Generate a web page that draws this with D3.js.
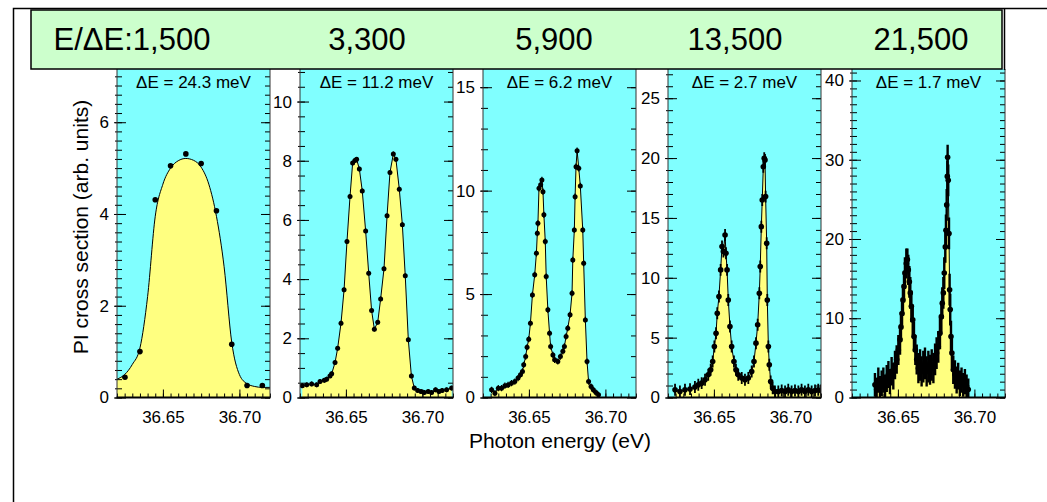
<!DOCTYPE html>
<html>
<head>
<meta charset="utf-8">
<script src="https://cdn.jsdelivr.net/npm/d3@7"></script>
<style>
  body { margin: 0; background: #fff; }
  svg { display: block; font-family: "Liberation Sans", Arial, sans-serif; }
</style>
</head>
<body>
<svg id="chart" width="1047" height="502"></svg>
<script>
// header + panel labels
const headerLabels = ["E/\u0394E:1,500", "3,300", "5,900", "13,500", "21,500"];
const resLabels = ["\u0394E = 24.3 meV", "\u0394E = 11.2 meV", "\u0394E = 6.2 meV", "\u0394E = 2.7 meV", "\u0394E = 1.7 meV"];

// axes
const xDomain = [36.62, 36.72];
const xTicks = [36.65, 36.70];
const xTickLabels = ["36.65", "36.70"];
const yMax = [7.16, 11.1, 15.88, 27.44, 41.45];
const yTicks = [[0, 2, 4, 6], [0, 2, 4, 6, 8, 10], [0, 5, 10, 15], [0, 5, 10, 15, 20, 25], [0, 10, 20, 30, 40]];
const yMinorStep = [0.2, 0.5, 1, 1, 1];

// panel 1 : points + fitted curve
const p1E = [36.6252, 36.635, 36.645, 36.655, 36.665, 36.675, 36.685, 36.695, 36.705, 36.715];
const p1Y = [0.44, 1.0, 4.31, 5.05, 5.31, 5.10, 4.07, 1.16, 0.26, 0.26];
const fitE = [36.620, 36.625, 36.630, 36.635, 36.640, 36.645, 36.650, 36.655, 36.660, 36.665, 36.670,
              36.675, 36.680, 36.685, 36.690, 36.695, 36.700, 36.705, 36.710, 36.715, 36.720];
const fitY = [0.40, 0.50, 0.72, 1.08, 2.20, 3.95, 4.65, 5.00, 5.16, 5.21, 5.17,
              5.02, 4.65, 3.95, 2.85, 1.20, 0.50, 0.30, 0.24, 0.22, 0.22];

// panel 2
const p2E = [36.6215, 36.6244, 36.6276, 36.6309, 36.6331, 36.6359, 36.6374, 36.6396, 36.6407, 36.6429,
             36.6446, 36.6468, 36.6488, 36.6507, 36.6527, 36.6544, 36.6559, 36.6570, 36.6588, 36.6607,
             36.6629, 36.6649, 36.6668, 36.6686, 36.6708, 36.6727, 36.6749, 36.6769, 36.6788, 36.6810,
             36.6827, 36.6849, 36.6869, 36.6888, 36.6908, 36.6928, 36.6947, 36.6969, 36.6991, 36.7012,
             36.7038, 36.7060, 36.7086, 36.7108, 36.7129, 36.7158, 36.7191];
const p2Y = [0.40, 0.43, 0.46, 0.43, 0.54, 0.58, 0.62, 0.73, 0.80, 1.18,
             1.66, 2.51, 3.64, 5.27, 6.79, 7.92, 8.01, 8.05, 7.72, 6.98,
             5.63, 4.20, 2.94, 2.31, 2.54, 3.33, 4.35, 6.14, 7.60, 8.23,
             8.05, 7.04, 5.84, 4.11, 1.95, 0.73, 0.32, 0.24, 0.20, 0.17,
             0.20, 0.17, 0.26, 0.20, 0.24, 0.26, 0.32];

// panel 3
const p3E = [36.6256, 36.6278, 36.6300, 36.6321, 36.6343, 36.6364, 36.6386, 36.6408, 36.6429, 36.6445,
             36.6458, 36.6466, 36.6479, 36.6488, 36.6499, 36.6510, 36.6523, 36.6538, 36.6549, 36.6555,
             36.6559, 36.6566, 36.6577, 36.6585, 36.6592, 36.6598, 36.6607, 36.6613, 36.6624, 36.6635,
             36.6642, 36.6657, 36.6668, 36.6689, 36.6706, 36.6722, 36.6732, 36.6743, 36.6754, 36.6769,
             36.6782, 36.6787, 36.6797, 36.6802, 36.6808, 36.6815, 36.6826, 36.6836, 36.6852, 36.6858,
             36.6869, 36.6880, 36.6890, 36.6906, 36.6921, 36.6938, 36.6955];
const p3Y = [0.37, 0.21, 0.45, 0.45, 0.57, 0.61, 0.69, 0.77, 0.94, 1.10,
             1.26, 1.58, 1.98, 2.43, 2.82, 3.59, 4.96, 5.93, 6.97, 7.94,
             8.42, 10.11, 10.28, 10.52, 9.95, 8.83, 7.54, 5.85, 4.24, 3.11,
             2.47, 2.06, 1.82, 1.74, 1.98, 2.23, 2.47, 2.95, 3.35, 4.00,
             5.04, 6.65, 8.10, 9.71, 11.16, 11.93, 11.08, 10.23, 8.10, 6.49,
             3.75, 1.74, 0.77, 0.53, 0.37, 0.24, 0.13];

// panel 4
const p4E = [36.6246, 36.6278, 36.6311, 36.6344, 36.6376, 36.6398, 36.6420, 36.6442, 36.6463, 36.6479,
             36.6492, 36.6503, 36.6514, 36.6522, 36.6533, 36.6544, 36.6553, 36.6562, 36.6573, 36.6579,
             36.6586, 36.6594, 36.6605, 36.6616, 36.6631, 36.6644, 36.6659, 36.6682, 36.6703, 36.6725,
             36.6747, 36.6762, 36.6775, 36.6786, 36.6797, 36.6803, 36.6810, 36.6816, 36.6823, 36.6829,
             36.6834, 36.6838, 36.6845, 36.6849, 36.6856, 36.6862, 36.6871, 36.6884, 36.6899, 36.6921,
             36.6943, 36.6965, 36.6986, 36.7008, 36.7030, 36.7052, 36.7073, 36.7095, 36.7117, 36.7139,
             36.7161, 36.7182, 36.7200];
const p4Y = [0.64, 0.50, 0.64, 0.70, 0.87, 1.06, 1.20, 1.48, 1.90, 2.31,
             3.01, 4.26, 5.37, 7.04, 8.43, 10.66, 12.61, 12.19, 13.58, 12.05,
             10.66, 8.15, 5.93, 4.26, 3.01, 2.31, 1.90, 1.62, 1.48, 1.62,
             2.17, 3.01, 4.54, 6.07, 8.71, 10.94, 14.27, 16.50, 19.28, 19.98,
             19.84, 16.78, 12.89, 8.15, 4.26, 2.73, 1.34, 0.78, 0.50, 0.50,
             0.59, 0.50, 0.64, 0.50, 0.59, 0.50, 0.64, 0.50, 0.64, 0.50,
             0.59, 0.64, 0.59];

// panel 5 (with error bars)
const p5E = [36.6350, 36.6361, 36.6372, 36.6383, 36.6394, 36.6405, 36.6416, 36.6427, 36.6438, 36.6448,
             36.6459, 36.6470, 36.6481, 36.6492, 36.6503, 36.6514, 36.6520, 36.6527, 36.6533, 36.6540,
             36.6546, 36.6555, 36.6562, 36.6568, 36.6575, 36.6581, 36.6588, 36.6597, 36.6605, 36.6614,
             36.6623, 36.6634, 36.6645, 36.6655, 36.6666, 36.6677, 36.6688, 36.6699, 36.6710, 36.6721,
             36.6732, 36.6743, 36.6753, 36.6764, 36.6775, 36.6784, 36.6790, 36.6797, 36.6803, 36.6810,
             36.6814, 36.6819, 36.6823, 36.6825, 36.6829, 36.6834, 36.6838, 36.6842, 36.6847, 36.6853,
             36.6862, 36.6873, 36.6884, 36.6894, 36.6905, 36.6916, 36.6927, 36.6938, 36.6949, 36.6960];
const p5Y = [1.6, 1.0, 2.2, 1.2, 1.8, 2.2, 1.4, 2.4, 2.9, 2.0,
             3.3, 2.7, 4.1, 4.8, 6.0, 7.3, 8.9, 10.6, 12.3, 14.0,
             15.7, 16.9, 17.4, 16.1, 14.6, 13.2, 11.5, 9.8, 7.7, 6.0,
             4.8, 3.7, 4.1, 3.3, 3.9, 4.3, 3.3, 3.9, 3.5, 4.1,
             3.7, 4.8, 5.6, 6.4, 8.1, 10.2, 11.9, 13.2, 15.7, 19.0,
             21.1, 24.3, 27.9, 30.3, 27.4, 20.7, 13.6, 11.1, 7.7, 5.6,
             3.5, 2.9, 2.2, 2.7, 1.8, 2.2, 1.6, 2.0, 1.4, 1.0];
const p5Err = [1.5, 1.5, 1.6, 1.5, 1.6, 1.6, 1.5, 1.7, 1.7, 1.6,
               1.8, 1.7, 1.8, 1.8, 1.9, 1.9, 1.9, 2.0, 2.0, 2.0,
               2.0, 1.9, 1.4, 1.9, 2.0, 2.0, 2.0, 1.9, 1.9, 1.9,
               1.9, 1.9, 2.0, 1.9, 2.0, 2.0, 1.9, 2.0, 1.9, 2.0,
               1.9, 2.0, 2.0, 2.0, 2.0, 2.0, 2.0, 2.0, 2.0, 2.0,
               2.0, 2.0, 2.0, 1.6, 2.0, 2.0, 2.0, 2.0, 2.0, 1.9,
               1.8, 1.8, 1.7, 1.7, 1.6, 1.6, 1.5, 1.6, 1.5, 1.4];
const errConst = [0, 0.08, 0.15, 0.5, 0];

const zip = (a, b) => a.map((v, i) => [v, b[i]]);
const panels = [
  { curve: zip(fitE, fitY), pts: zip(p1E, p1Y), smooth: true },
  { curve: zip(p2E, p2Y), pts: zip(p2E, p2Y) },
  { curve: zip(p3E, p3Y), pts: zip(p3E, p3Y) },
  { curve: zip(p4E, p4Y), pts: zip(p4E, p4Y) },
  { curve: zip(p5E, p5Y), pts: zip(p5E, p5Y), err: p5Err }
];

const svg = d3.select("#chart");
const panelLeft = [117, 300, 483, 668, 852];
const panelW = 153;
const plotTop = 69, plotBottom = 397.5;
const dotR = [2.8, 2.5, 2.5, 2.8, 2.8];
const ebWidth = [1, 1.2, 1.2, 1.8, 2.4];

panels.forEach((p, i) => {
  const L = panelLeft[i];
  const x = d3.scaleLinear().domain(xDomain).range([L, L + panelW]);
  const y = d3.scaleLinear().domain([0, yMax[i]]).range([plotBottom, plotTop]);
  const g = svg.append("g");

  g.append("clipPath").attr("id", "clip" + i)
    .append("rect").attr("x", L).attr("y", plotTop).attr("width", panelW).attr("height", plotBottom - plotTop);

  g.append("rect")
    .attr("x", L).attr("y", plotTop).attr("width", panelW).attr("height", plotBottom - plotTop)
    .attr("fill", "#80ffff");

  const inner = g.append("g").attr("clip-path", `url(#clip${i})`);
  const ctype = p.smooth ? d3.curveMonotoneX : d3.curveLinear;

  inner.append("path")
    .datum(p.curve)
    .attr("fill", "#ffff80")
    .attr("d", d3.area().curve(ctype).x(d => x(d[0])).y0(y(0)).y1(d => y(d[1])));

  inner.append("path")
    .datum(p.curve)
    .attr("fill", "none").attr("stroke", "#000").attr("stroke-width", 1)
    .attr("d", d3.line().curve(ctype).x(d => x(d[0])).y(d => y(d[1])));

  // error bars
  inner.selectAll(".eb")
    .data(p.pts)
    .join("line")
    .attr("class", "eb")
    .attr("x1", d => x(d[0])).attr("x2", d => x(d[0]))
    .attr("y1", (d, k) => y(d[1] - (p.err ? p.err[k] : errConst[i])))
    .attr("y2", (d, k) => y(d[1] + (p.err ? p.err[k] : errConst[i])))
    .attr("stroke", "#000").attr("stroke-width", ebWidth[i]);

  inner.selectAll("circle")
    .data(p.pts)
    .join("circle")
    .attr("cx", d => x(d[0])).attr("cy", d => y(d[1]))
    .attr("r", dotR[i])
    .attr("fill", "#000");

  // bottom ticks
  const xMinor = d3.range(0, 21).map(k => 36.62 + k * 0.005);
  g.append("g")
    .attr("transform", `translate(0,${plotBottom})`)
    .call(d3.axisBottom(x).tickValues(xMinor).tickSize(-4).tickFormat(""))
    .call(a => a.select(".domain").remove());
  g.append("g")
    .attr("transform", `translate(0,${plotBottom})`)
    .call(d3.axisBottom(x).tickValues(xTicks).tickSize(-8).tickPadding(13)
      .tickFormat((d, k) => xTickLabels[k]))
    .call(a => a.select(".domain").remove())
    .call(a => a.selectAll("text").attr("font-size", 17).attr("font-family", null).attr("fill", "#000"));

  // left / right ticks
  const yMinor = d3.range(0, Math.floor(yMax[i] / yMinorStep[i]) + 1).map(k => k * yMinorStep[i]);
  g.append("g")
    .attr("transform", `translate(${L},0)`)
    .call(d3.axisLeft(y).tickValues(yMinor).tickSize(-5).tickFormat(""))
    .call(a => a.select(".domain").remove())
    .call(a => a.selectAll("line").attr("x1", -2));
  g.append("g")
    .attr("transform", `translate(${L},0)`)
    .call(d3.axisLeft(y).tickValues(yTicks[i]).tickSize(-9).tickPadding(8))
    .call(a => a.select(".domain").remove())
    .call(a => a.selectAll("line").attr("x1", -3))
    .call(a => a.selectAll("text").attr("font-size", 17).attr("font-family", null).attr("fill", "#000"));
  g.append("g")
    .attr("transform", `translate(${L + panelW},0)`)
    .call(d3.axisRight(y).tickValues(yMinor).tickSize(-5).tickFormat(""))
    .call(a => a.select(".domain").remove());
  g.append("g")
    .attr("transform", `translate(${L + panelW},0)`)
    .call(d3.axisRight(y).tickValues(yTicks[i]).tickSize(-9).tickFormat(""))
    .call(a => a.select(".domain").remove());

  // frame
  g.append("line").attr("x1", L).attr("x2", L).attr("y1", plotTop).attr("y2", plotBottom)
    .attr("stroke", "#333").attr("stroke-width", 1);
  g.append("line").attr("x1", L + panelW).attr("x2", L + panelW).attr("y1", plotTop).attr("y2", plotBottom)
    .attr("stroke", "#333").attr("stroke-width", 1);
  g.append("line").attr("x1", L - 0.5).attr("x2", L + panelW + 0.5).attr("y1", plotBottom).attr("y2", plotBottom)
    .attr("stroke", "#000").attr("stroke-width", 2.2);

  g.append("text")
    .attr("x", L + panelW / 2).attr("y", 88)
    .attr("text-anchor", "middle").attr("font-size", 17)
    .text(resLabels[i]);
});

// outer frame
svg.append("path")
  .attr("d", "M13.5,502 V8.5 H1047 M1004.5,8.5 V70")
  .attr("fill", "none").attr("stroke", "#000").attr("stroke-width", 1.5);

// header band
svg.append("rect")
  .attr("x", 31).attr("y", 10).attr("width", 971).attr("height", 59)
  .attr("fill", "#ccffcc").attr("stroke", "#000").attr("stroke-width", 1.5);
const headerX = [132, 367, 554, 735, 921];
svg.selectAll(".hdr")
  .data(headerLabels)
  .join("text")
  .attr("class", "hdr")
  .attr("x", (d, i) => headerX[i]).attr("y", 50)
  .attr("text-anchor", "middle").attr("font-size", 31)
  .text(d => d);

// axis titles
svg.append("text")
  .attr("x", 560).attr("y", 448)
  .attr("text-anchor", "middle").attr("font-size", 21)
  .text("Photon energy (eV)");
svg.append("text")
  .attr("transform", "translate(88,227) rotate(-90)")
  .attr("text-anchor", "middle").attr("font-size", 21)
  .text("PI cross section (arb. units)");
</script>
</body>
</html>
